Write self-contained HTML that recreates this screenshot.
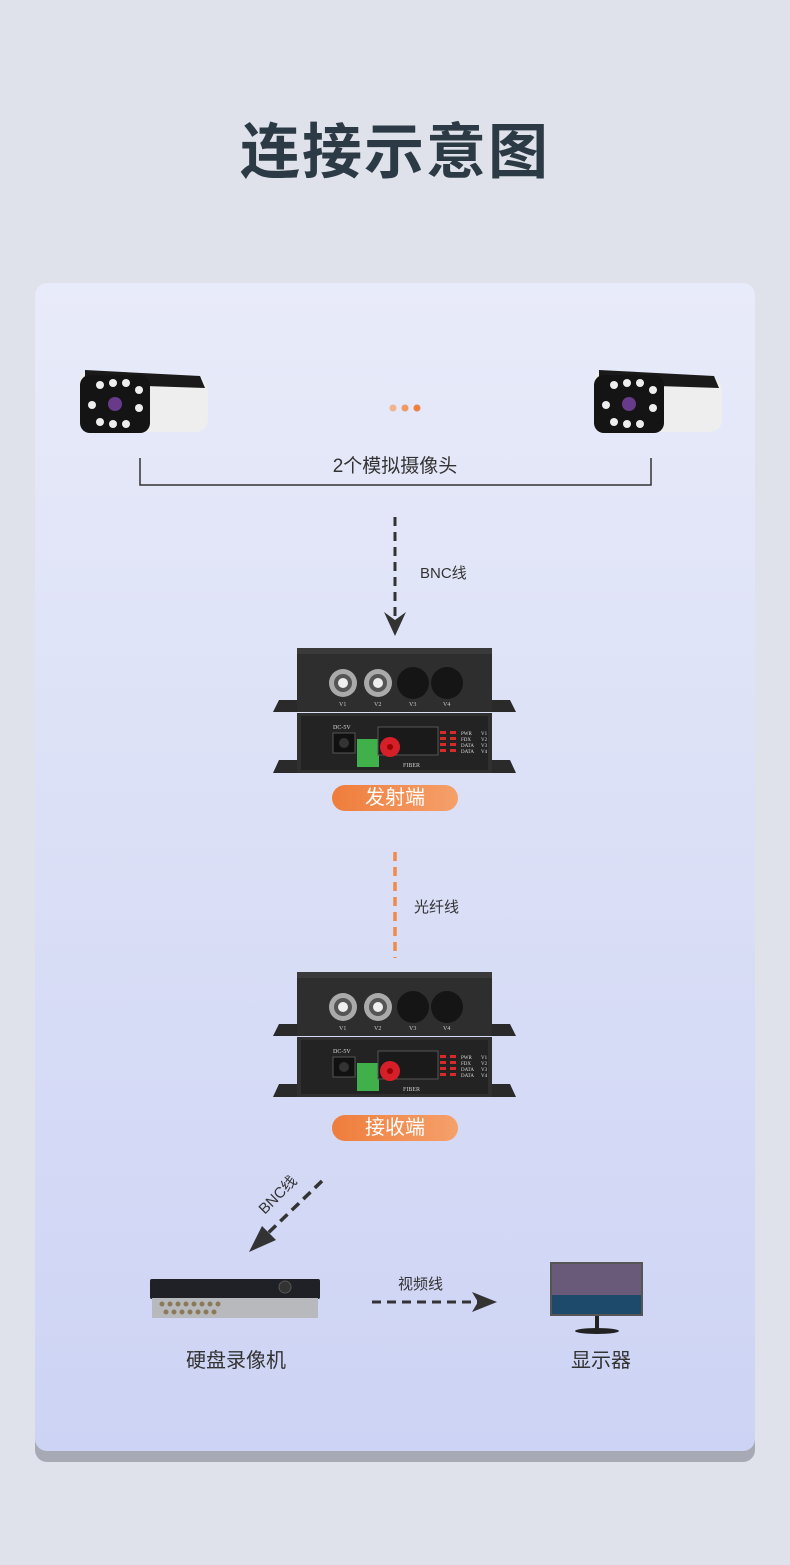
<!DOCTYPE html>
<html><head><meta charset="utf-8"><style>
body{margin:0;width:790px;height:1565px;background:#dfe2ea;position:relative;overflow:hidden;font-family:"Liberation Sans","Noto Sans CJK SC",sans-serif}
.t{position:absolute;white-space:nowrap}
</style></head><body>
<svg width="790" height="1565" style="position:absolute;left:0;top:0">
<defs>
<linearGradient id="card" x1="0" y1="0" x2="0" y2="1"><stop offset="0" stop-color="#e8ebf9"/><stop offset="1" stop-color="#cdd3f4"/></linearGradient>
<linearGradient id="pill" x1="0" y1="0" x2="1" y2="0"><stop offset="0" stop-color="#ef7d3c"/><stop offset="1" stop-color="#f5a06a"/></linearGradient>
<g id="dev">
 <path d="M273 712 L279 700 L297 700 L297 712Z M516 712 L510 700 L492 700 L492 712Z" fill="#2a2a2a"/>
 <path d="M273 773 L279 760 L297 760 L297 773Z M516 773 L510 760 L492 760 L492 773Z" fill="#2a2a2a"/>
 <rect x="297" y="648" width="195" height="64" fill="#2e2e2e"/>
 <rect x="297" y="648" width="195" height="6" fill="#3a3a3a"/>
 <circle cx="343" cy="683" r="14" fill="#aaa"/><circle cx="343" cy="683" r="9" fill="#555"/><circle cx="343" cy="683" r="5" fill="#eee"/>
 <circle cx="378" cy="683" r="14" fill="#aaa"/><circle cx="378" cy="683" r="9" fill="#555"/><circle cx="378" cy="683" r="5" fill="#eee"/>
 <circle cx="413" cy="683" r="16" fill="#151515"/><circle cx="447" cy="683" r="16" fill="#151515"/>
 <g fill="#ccc" font-size="6" font-family="Liberation Serif"><text x="339" y="706">V1</text><text x="374" y="706">V2</text><text x="409" y="706">V3</text><text x="443" y="706">V4</text></g>
 <rect x="297" y="713" width="195" height="60" fill="#303030"/>
 <rect x="301" y="716" width="187" height="54" fill="#232323"/>
 <rect x="333" y="733" width="22" height="20" fill="#111" stroke="#555"/><circle cx="344" cy="743" r="5" fill="#333"/>
 <text x="333" y="729" fill="#ddd" font-size="6" font-family="Liberation Serif">DC-5V</text>
 <rect x="357" y="739" width="22" height="28" fill="#3fb04a"/>
 <rect x="378" y="727" width="60" height="28" fill="#1a1a1a" stroke="#555"/>
 <circle cx="390" cy="747" r="10" fill="#d5202a"/><circle cx="390" cy="747" r="3" fill="#900"/>
 <text x="403" y="767" fill="#ccc" font-size="6" font-family="Liberation Serif">FIBER</text>
 <g fill="#d92a2a"><rect x="440" y="731" width="6" height="3"/><rect x="450" y="731" width="6" height="3"/><rect x="440" y="737" width="6" height="3"/><rect x="450" y="737" width="6" height="3"/><rect x="440" y="743" width="6" height="3"/><rect x="450" y="743" width="6" height="3"/><rect x="440" y="749" width="6" height="3"/><rect x="450" y="749" width="6" height="3"/></g>
 <g fill="#ddd" font-size="5" font-family="Liberation Serif"><text x="461" y="735">PWR</text><text x="461" y="741">FDX</text><text x="461" y="747">DATA</text><text x="461" y="753">DATA</text><text x="481" y="735">V1</text><text x="481" y="741">V2</text><text x="481" y="747">V3</text><text x="481" y="753">V4</text></g>
</g>
<g id="cam">
 <path d="M85 372 L195 376 Q208 378 208 392 L208 418 Q208 432 195 432 L95 432 Q80 430 80 415 L80 385 Q80 372 85 372Z" fill="#eee"/>
 <path d="M85 370 L200 376 L205 388 L85 384Z" fill="#1a1a1a"/>
 <rect x="80" y="375" width="70" height="58" rx="10" fill="#141414"/>
 <g fill="#eee"><circle cx="100" cy="385" r="4"/><circle cx="113" cy="383" r="4"/><circle cx="126" cy="383" r="4"/><circle cx="139" cy="390" r="4"/><circle cx="139" cy="408" r="4"/><circle cx="100" cy="422" r="4"/><circle cx="113" cy="424" r="4"/><circle cx="126" cy="424" r="4"/><circle cx="92" cy="405" r="4"/></g>
 <circle cx="115" cy="404" r="7" fill="#6a3a8a"/>
</g>
</defs>
<rect x="35" y="290" width="720" height="1172" rx="12" fill="#a7aab4"/>
<rect x="35" y="283" width="720" height="1168" rx="12" fill="url(#card)"/>
<use href="#cam"/>
<use href="#cam" transform="translate(514,0)"/>
<circle cx="393" cy="408" r="3.5" fill="#f3b38a"/><circle cx="405" cy="408" r="3.5" fill="#f09a62"/><circle cx="417" cy="408" r="3.5" fill="#ee7f3f"/>
<path d="M140 458 V485 H651 V458" fill="none" stroke="#333" stroke-width="1.5"/>
<line x1="395" y1="517" x2="395" y2="620" stroke="#333" stroke-width="3" stroke-dasharray="9 6"/>
<path d="M384 612 L395 636 L406 612 L395 620Z" fill="#333"/>
<use href="#dev"/>
<rect x="332" y="785" width="126" height="26" rx="13" fill="url(#pill)"/>
<line x1="395" y1="852" x2="395" y2="958" stroke="#f08a4a" stroke-width="3.5" stroke-dasharray="9 6"/>
<use href="#dev" transform="translate(0,324)"/>
<rect x="332" y="1115" width="126" height="26" rx="13" fill="url(#pill)"/>
<line x1="322" y1="1181" x2="264" y2="1237" stroke="#333" stroke-width="3.5" stroke-dasharray="10 6"/>
<path d="M249 1252 L262 1226 L269 1233 L276 1240Z" fill="#333"/>
<line x1="372" y1="1302" x2="480" y2="1302" stroke="#333" stroke-width="3" stroke-dasharray="9 6"/>
<path d="M472 1292 L497 1302 L472 1312 L478 1302Z" fill="#333"/>
<rect x="150" y="1279" width="170" height="20" rx="2" fill="#1f2126"/>
<circle cx="285" cy="1287" r="6" fill="#333" stroke="#555"/>
<rect x="152" y="1298" width="166" height="20" fill="#b8b9bc"/>
<g fill="#8a7a5a"><circle cx="162" cy="1304" r="2.5"/><circle cx="170" cy="1304" r="2.5"/><circle cx="178" cy="1304" r="2.5"/><circle cx="186" cy="1304" r="2.5"/><circle cx="194" cy="1304" r="2.5"/><circle cx="202" cy="1304" r="2.5"/><circle cx="210" cy="1304" r="2.5"/><circle cx="218" cy="1304" r="2.5"/><circle cx="166" cy="1312" r="2.5"/><circle cx="174" cy="1312" r="2.5"/><circle cx="182" cy="1312" r="2.5"/><circle cx="190" cy="1312" r="2.5"/><circle cx="198" cy="1312" r="2.5"/><circle cx="206" cy="1312" r="2.5"/><circle cx="214" cy="1312" r="2.5"/></g>
<rect x="550" y="1262" width="93" height="54" fill="#555"/>
<rect x="552" y="1264" width="89" height="50" fill="#6a5a7a"/>
<rect x="552" y="1295" width="89" height="19" fill="#1d4a6a"/>
<rect x="595" y="1316" width="4" height="14" fill="#222"/>
<ellipse cx="597" cy="1331" rx="22" ry="3" fill="#222"/>
</svg>
<div class="t" style="left:0;width:790px;top:104px;text-align:center;font-size:60px;font-weight:bold;color:#2c3a45;letter-spacing:2px">连接示意图</div>
<div class="t" style="left:0;width:790px;top:451px;text-align:center;font-size:19px;color:#333">2个模拟摄像头</div>
<div class="t" style="left:420px;top:562px;font-size:15px;color:#333">BNC线</div>
<div class="t" style="left:332px;width:126px;top:785px;text-align:center;font-size:20px;line-height:26px;color:#fff">发射端</div>
<div class="t" style="left:414px;top:896px;font-size:15px;color:#333">光纤线</div>
<div class="t" style="left:332px;width:126px;top:1115px;text-align:center;font-size:20px;line-height:26px;color:#fff">接收端</div>
<div class="t" style="left:254px;top:1184px;font-size:15px;color:#333;transform:rotate(-45deg)">BNC线</div>
<div class="t" style="left:398px;top:1273px;font-size:15px;color:#333">视频线</div>
<div class="t" style="left:186px;top:1344px;font-size:20px;color:#333">硬盘录像机</div>
<div class="t" style="left:571px;top:1344px;font-size:20px;color:#333">显示器</div>
</body></html>
